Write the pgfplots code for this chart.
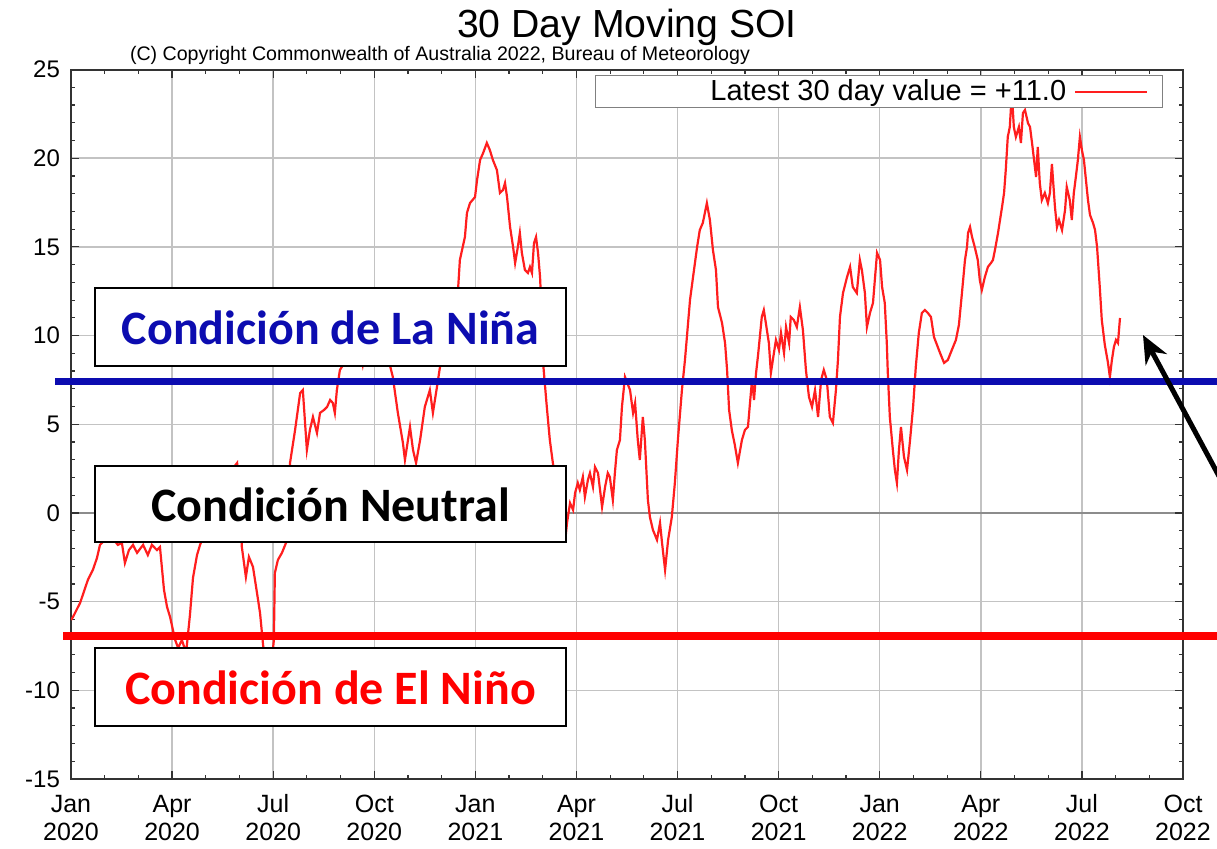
\documentclass[border=0pt]{standalone}
\usepackage{pgfplots}
\pgfplotsset{compat=1.18}
\usepackage{fontspec}
\setmainfont{Liberation Sans}
\newfontfamily\calibri{Carlito}
\usetikzlibrary{arrows.meta}
\definecolor{curvered}{RGB}{255,30,30}
\definecolor{ninablue}{RGB}{12,12,176}
\definecolor{gridgray}{RGB}{195,195,195}
\begin{document}
\begin{tikzpicture}
\useasboundingbox (0pt,0pt) rectangle (608.5pt,-424pt);
\begin{axis}[
  at={(35.5pt,-389.5pt)}, anchor=south west,
  scale only axis, width=556pt, height=354.75pt,
  xmin=0, xmax=33, ymin=-15, ymax=25,
  xtick={0,3,...,33},
  xticklabels={{\strut Jan\\\strut 2020},{\strut Apr\\\strut 2020},{\strut Jul\\\strut 2020},{\strut Oct\\\strut 2020},{\strut Jan\\\strut 2021},{\strut Apr\\\strut 2021},{\strut Jul\\\strut 2021},{\strut Oct\\\strut 2021},{\strut Jan\\\strut 2022},{\strut Apr\\\strut 2022},{\strut Jul\\\strut 2022},{\strut Oct\\\strut 2022}},
  ytick={-15,-10,...,25},
  minor x tick num=2, minor y tick num=4,
  tick align=inside, tick pos=both,
  major tick length=4pt, minor tick length=2.2pt,
  every tick/.style={black!80, line width=0.6pt},
  grid=major, major grid style={gridgray, line width=0.7pt},
  extra y ticks={0}, extra y tick labels={},
  extra y tick style={grid=major, major grid style={black!45, line width=0.8pt}},
  axis line style={black!80, line width=1pt},
  /pgf/number format/assume math mode=true,
  xticklabel style={font=\fontsize{12.5}{14}\selectfont, align=center, yshift=-3.5pt},
  yticklabel style={font=\fontsize{12}{14}\selectfont, xshift=-2pt},
  legend plot pos=right,
  legend image code/.code={\draw[#1] (0pt,0pt) -- (36pt,0pt); \path (41pt,0pt);},
  legend style={at={(0.982,0.992)}, anchor=north east, draw=black!50, line width=0.6pt,
     font=\fontsize{14.5}{15}\selectfont, inner xsep=2pt, inner ysep=0pt},
]
\addplot[curvered, line width=1.1pt] table {
0.00 -6.03
0.06 -5.86
0.27 -5.07
0.50 -3.78
0.65 -3.21
0.77 -2.54
0.86 -1.80
1.16 -1.24
1.39 -1.80
1.51 -1.69
1.60 -2.82
1.72 -2.09
1.84 -1.80
1.96 -2.25
2.14 -1.80
2.28 -2.37
2.40 -1.80
2.55 -2.09
2.64 -1.92
2.76 -4.34
2.85 -5.30
2.94 -5.86
3.09 -7.16
3.18 -7.61
3.29 -7.16
3.41 -7.84
3.44 -7.44
3.53 -5.75
3.62 -3.66
3.74 -2.37
3.83 -1.80
4.12 -0.39
4.42 1.01
4.72 2.31
4.93 2.82
5.01 0.73
5.07 -1.92
5.19 -3.61
5.28 -2.48
5.40 -3.04
5.52 -4.51
5.61 -5.64
5.70 -7.44
5.79 -8.57
5.88 -8.00
5.96 -8.40
6.02 -7.16
6.05 -3.38
6.14 -2.65
6.26 -2.25
6.38 -1.69
6.44 0.73
6.50 2.82
6.65 4.68
6.80 6.76
6.88 6.93
7.00 3.55
7.09 4.68
7.18 5.41
7.30 4.51
7.39 5.64
7.51 5.81
7.60 5.98
7.69 6.37
7.77 6.20
7.83 5.64
7.89 6.93
7.98 8.06
8.13 8.51
8.34 9.19
8.52 9.75
8.66 8.34
8.87 10.30
9.11 10.90
9.32 9.75
9.47 8.29
9.55 7.67
9.70 5.64
9.85 3.95
9.91 2.99
10.00 4.11
10.06 4.85
10.15 3.55
10.24 2.82
10.36 4.11
10.50 5.98
10.65 6.93
10.74 5.64
10.86 7.10
10.95 8.23
11.10 9.75
11.25 10.88
11.39 12.01
11.48 12.40
11.54 14.26
11.69 15.56
11.75 16.91
11.84 17.47
11.99 17.81
12.05 18.77
12.14 19.90
12.23 20.29
12.34 20.86
12.43 20.46
12.52 19.90
12.64 19.33
12.73 18.04
12.82 18.21
12.88 18.60
12.94 17.81
13.03 16.12
13.12 14.99
13.18 14.09
13.26 14.99
13.32 15.78
13.38 14.66
13.47 13.70
13.56 13.53
13.62 13.87
13.68 13.53
13.74 15.22
13.80 15.56
13.86 14.66
13.92 13.30
13.95 12.01
13.98 9.75
14.01 8.46
14.12 5.98
14.21 4.11
14.30 2.82
14.42 1.30
14.54 0.45
14.63 -0.39
14.69 -1.13
14.72 -0.56
14.81 0.56
14.90 0.17
14.96 1.13
15.04 1.69
15.10 1.30
15.19 2.03
15.25 0.90
15.34 1.86
15.40 2.25
15.49 1.47
15.55 2.59
15.64 2.25
15.76 0.34
15.85 1.47
15.93 2.25
15.99 2.03
16.08 0.73
16.14 2.25
16.20 3.55
16.29 4.11
16.35 5.98
16.44 7.67
16.59 6.93
16.68 5.64
16.74 6.20
16.82 4.11
16.88 2.99
16.97 5.41
17.03 4.11
17.12 0.73
17.18 -0.23
17.27 -0.96
17.39 -1.52
17.48 -0.56
17.54 -1.69
17.63 -3.21
17.72 -1.52
17.83 -0.23
17.92 1.69
18.01 4.11
18.13 6.93
18.22 8.62
18.37 12.01
18.46 13.30
18.58 14.99
18.66 15.95
18.75 16.35
18.87 17.47
18.96 16.52
19.05 14.83
19.14 13.70
19.20 11.61
19.32 10.71
19.41 9.58
19.47 8.06
19.53 5.81
19.61 4.68
19.70 3.83
19.79 2.82
19.91 4.11
20.00 4.68
20.09 4.85
20.15 6.20
20.21 7.50
20.27 6.37
20.33 7.89
20.39 8.91
20.50 11.05
20.56 11.44
20.62 10.71
20.71 9.58
20.77 7.89
20.86 9.02
20.92 9.75
21.01 9.19
21.07 10.15
21.16 9.02
21.22 10.48
21.31 9.58
21.36 11.05
21.45 10.88
21.54 10.48
21.63 11.61
21.72 10.32
21.81 8.06
21.90 6.54
21.99 5.98
22.08 6.93
22.17 5.41
22.26 7.50
22.34 8.06
22.43 7.50
22.52 5.41
22.61 5.07
22.70 6.93
22.76 8.62
22.82 11.05
22.91 12.40
23.03 13.30
23.12 13.87
23.20 12.74
23.32 12.40
23.41 14.26
23.47 13.70
23.56 12.40
23.62 10.48
23.71 11.27
23.80 11.84
23.92 14.66
24.01 14.26
24.07 12.74
24.15 11.84
24.21 9.58
24.24 7.89
24.30 5.41
24.39 3.55
24.45 2.42
24.51 1.69
24.57 3.55
24.63 4.85
24.72 3.16
24.81 2.42
24.90 4.11
24.99 5.98
25.07 8.23
25.16 10.15
25.25 11.27
25.34 11.44
25.43 11.27
25.52 11.05
25.61 9.92
25.70 9.47
25.79 9.02
25.91 8.46
26.02 8.62
26.14 9.19
26.26 9.75
26.35 10.60
26.44 12.40
26.53 14.26
26.59 14.99
26.62 15.78
26.68 16.12
26.74 15.56
26.82 14.99
26.91 14.26
26.97 13.13
27.03 12.57
27.12 13.30
27.21 13.87
27.30 14.09
27.36 14.26
27.42 14.83
27.51 15.78
27.57 16.52
27.63 17.25
27.69 18.04
27.74 19.33
27.80 21.20
27.86 21.76
27.92 23.68
27.98 21.76
28.04 21.20
28.13 21.76
28.19 20.86
28.25 22.55
28.31 22.72
28.40 21.98
28.46 21.76
28.52 20.86
28.58 19.90
28.64 18.94
28.69 20.63
28.75 18.60
28.81 17.64
28.90 18.04
28.99 17.47
29.05 18.04
29.11 19.67
29.20 17.25
29.26 16.12
29.32 16.52
29.41 15.95
29.50 17.08
29.55 18.38
29.64 17.64
29.70 16.52
29.76 18.04
29.82 18.94
29.88 19.90
29.94 21.20
30.00 20.46
30.06 19.90
30.12 18.77
30.18 17.64
30.24 16.80
30.33 16.35
30.39 15.95
30.45 14.99
30.53 12.74
30.59 10.88
30.68 9.47
30.77 8.51
30.83 7.67
30.89 8.62
30.95 9.36
31.01 9.75
31.07 9.58
31.13 10.99
};
\addlegendentry{\hspace*{53.5pt}Latest 30 day value = +11.0\hspace*{2pt}}
\end{axis}
% title and subtitle
\node[font=\fontsize{19.6}{22}\selectfont] at (313.5pt,-13.5pt) {30 Day Moving SOI};
\node[font=\fontsize{9.8}{11}\selectfont] at (220pt,-27.5pt) {(C) Copyright Commonwealth of Australia 2022, Bureau of Meteorology};
% threshold lines
\draw[ninablue, line width=3.5pt] (27.5pt,-190.75pt) -- (608.5pt,-190.75pt);
\draw[red, line width=4pt] (31.5pt,-317.75pt) -- (608.5pt,-317.75pt);
% boxes
\draw[line width=1pt, fill=white] (47.5pt,-144pt) rectangle (283pt,-183pt);
\draw[line width=1pt, fill=white] (47.5pt,-233pt) rectangle (283pt,-271pt);
\draw[line width=1pt, fill=white] (47.5pt,-324pt) rectangle (283pt,-363pt);
\node[font=\calibri\bfseries\fontsize{24}{28}\selectfont, text=ninablue] at (165.25pt,-164pt) {Condición de La Niña};
\node[font=\calibri\bfseries\fontsize{24}{28}\selectfont, text=black] at (165.25pt,-252.5pt) {Condición Neutral};
\node[font=\calibri\bfseries\fontsize{24}{28}\selectfont, text=red] at (165.25pt,-344pt) {Condición de El Niño};
% arrow
\draw[line width=2.5pt, -{Stealth[length=14pt,width=12pt]}] (610pt,-239pt) -- (571.5pt,-167.5pt);
\end{tikzpicture}
\end{document}
